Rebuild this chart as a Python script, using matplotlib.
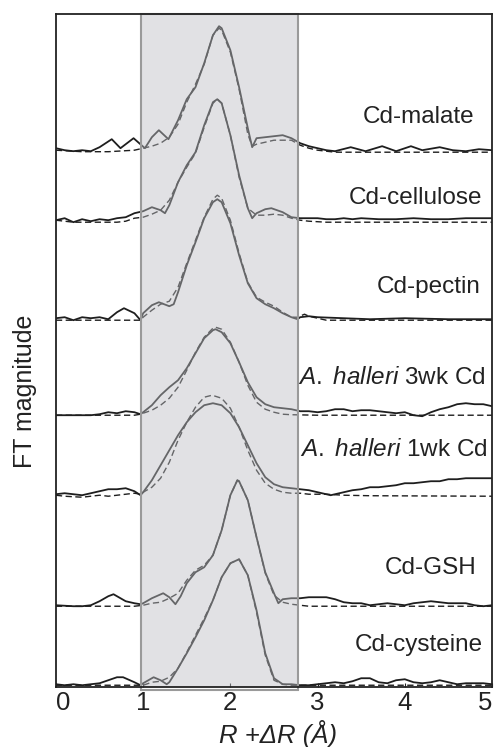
# EXAFS Fourier transforms: data (solid) vs fit (dashed), stacked
import matplotlib
matplotlib.use('Agg')
import matplotlib.pyplot as plt
from matplotlib.patches import Rectangle

plt.rcParams['font.family'] = ['Liberation Sans', 'DejaVu Sans']
plt.rcParams['mathtext.fontset'] = 'custom'
plt.rcParams['mathtext.it'] = 'Liberation Sans:italic'
plt.rcParams['mathtext.rm'] = 'Liberation Sans'

# (R + dR, FT magnitude), heights in arbitrary units
malate_data = [(0.0, 4), (0.1, 2), (0.2, 1), (0.3, 2), (0.4, 1), (0.5, 5), (0.64, 13), (0.74, 4),
               (0.89, 14), (1.02, 4), (1.1, 15), (1.18, 22), (1.29, 13), (1.4, 32), (1.5, 53),
               (1.6, 65), (1.7, 89), (1.8, 117), (1.87, 126), (1.9, 124), (2.0, 102), (2.1, 65),
               (2.2, 24), (2.25, 5), (2.3, 14), (2.4, 15), (2.5, 16), (2.6, 17), (2.7, 14),
               (2.8, 9), (2.9, 6), (3.0, 4), (3.1, 2), (3.2, 1), (3.38, 5), (3.55, 1), (3.74, 6),
               (3.9, 1), (4.07, 6), (4.2, 2), (4.4, 5), (4.55, 2), (4.7, 1), (4.85, 3), (5.0, 2)]
malate_fit = [(0.0, 2), (0.3, 0.5), (0.6, 0.5), (0.9, 2), (1.0, 4), (1.1, 6), (1.2, 9), (1.3, 15),
              (1.4, 28), (1.5, 50), (1.6, 68), (1.7, 88), (1.8, 117), (1.87, 124), (1.9, 122),
              (2.0, 100), (2.1, 63), (2.2, 18), (2.25, 6), (2.3, 8), (2.4, 10), (2.5, 12),
              (2.6, 12), (2.7, 12), (2.8, 7), (2.9, 4), (3.0, 2), (3.2, 0), (5.0, 0)]

cellulose_data = [(0.0, 2), (0.1, 4), (0.2, 0), (0.3, 3), (0.4, 1), (0.5, 3), (0.6, 2), (0.7, 4),
                  (0.8, 5), (0.9, 9), (1.0, 11), (1.1, 15), (1.2, 12), (1.25, 9), (1.3, 17),
                  (1.4, 40), (1.5, 57), (1.6, 70), (1.7, 97), (1.8, 120), (1.85, 123), (1.9, 119),
                  (2.0, 87), (2.1, 47), (2.2, 14), (2.25, 4), (2.3, 9), (2.4, 13), (2.47, 14),
                  (2.6, 10), (2.7, 5), (2.8, 4), (3.0, 4), (3.1, 3), (3.2, 3), (3.3, 4), (3.4, 3),
                  (3.5, 4), (3.7, 3), (3.9, 3), (4.1, 4), (4.3, 3), (4.5, 3), (4.7, 4), (5.0, 4)]
cellulose_fit = [(0.0, 2), (0.2, 0), (0.7, 0), (0.8, 1), (0.9, 4), (1.0, 5), (1.1, 8), (1.2, 12),
                 (1.3, 22), (1.4, 40), (1.5, 55), (1.6, 69), (1.7, 95), (1.8, 119), (1.85, 123),
                 (1.9, 119), (2.0, 87), (2.1, 45), (2.2, 14), (2.3, 7), (2.4, 7), (2.5, 8),
                 (2.6, 7), (2.7, 4), (2.8, 2), (2.9, 1), (3.1, 0), (5.0, 0)]

pectin_data = [(0.0, 2), (0.1, 3), (0.2, 0), (0.3, 3), (0.4, 2), (0.5, 3), (0.6, 1), (0.7, 8),
               (0.78, 12), (0.9, 7), (0.97, 0), (1.0, 7), (1.1, 15), (1.18, 18), (1.3, 14),
               (1.35, 16), (1.4, 28), (1.5, 55), (1.6, 78), (1.7, 102), (1.8, 118), (1.85, 121),
               (1.9, 118), (2.0, 97), (2.1, 65), (2.2, 37), (2.3, 22), (2.4, 16), (2.5, 12),
               (2.6, 7), (2.7, 3), (2.77, 1), (2.8, 3), (2.9, 4), (3.0, 3), (3.3, 2), (3.6, 1),
               (4.0, 2), (4.5, 1), (5.0, 1)]
pectin_fit = [(0.0, 0), (0.97, 0), (1.0, 3), (1.1, 10), (1.2, 16), (1.3, 19), (1.4, 33), (1.5, 57),
              (1.6, 80), (1.7, 103), (1.8, 121), (1.85, 125), (1.9, 122), (2.0, 100), (2.1, 67),
              (2.2, 38), (2.3, 23), (2.4, 18), (2.5, 14), (2.6, 8), (2.7, 3), (2.77, 3),
              (2.85, 6), (2.9, 4), (3.0, 2), (3.1, 0), (5.0, 0)]

halleri3_data = [(0.0, 0), (0.4, 0), (0.5, 1), (0.6, 3), (0.7, 2), (0.8, 4), (0.9, 3), (0.97, 1),
                 (1.0, 3), (1.1, 10), (1.2, 20), (1.3, 28), (1.4, 35), (1.5, 47), (1.6, 62),
                 (1.7, 77), (1.8, 85), (1.83, 86), (1.9, 83), (2.0, 72), (2.1, 53), (2.2, 33),
                 (2.3, 18), (2.4, 11), (2.5, 8), (2.6, 7), (2.7, 6), (2.8, 4), (2.9, 4), (3.0, 3),
                 (3.1, 4), (3.2, 6), (3.3, 6), (3.4, 4), (3.5, 5), (3.6, 5), (3.7, 4), (3.8, 3),
                 (3.9, 2), (4.0, 3), (4.1, 0), (4.2, -1), (4.3, 3), (4.4, 6), (4.5, 8), (4.6, 11),
                 (4.7, 12), (4.8, 11), (4.9, 11), (5.0, 9)]
halleri3_fit = [(0.0, 0), (0.9, 0), (0.97, 1), (1.0, 2), (1.1, 5), (1.2, 10), (1.3, 17), (1.4, 28),
                (1.5, 45), (1.6, 63), (1.7, 78), (1.8, 87), (1.83, 88), (1.9, 86), (2.0, 73),
                (2.1, 53), (2.2, 30), (2.3, 13), (2.4, 6), (2.5, 3), (2.6, 1), (2.7, 0.5),
                (3.0, 0), (5.0, 0)]

halleri1_data = [(0.0, 2), (0.1, 3), (0.2, 2), (0.3, 1), (0.4, 3), (0.5, 5), (0.6, 7), (0.7, 7),
                 (0.8, 8), (0.9, 5), (0.97, 1), (1.0, 4), (1.1, 16), (1.2, 31), (1.3, 46),
                 (1.4, 61), (1.5, 74), (1.6, 84), (1.7, 91), (1.8, 93), (1.9, 91), (2.0, 83),
                 (2.1, 69), (2.2, 51), (2.3, 33), (2.4, 19), (2.5, 12), (2.6, 9), (2.7, 8),
                 (2.8, 7), (2.9, 6), (3.0, 4), (3.1, 2), (3.15, 1), (3.2, 2), (3.3, 4), (3.4, 6),
                 (3.5, 7), (3.6, 9), (3.7, 9), (3.8, 10), (3.9, 11), (4.0, 13), (4.1, 13),
                 (4.2, 14), (4.3, 15), (4.4, 15), (4.5, 17), (4.6, 17), (4.7, 18), (5.0, 18)]
halleri1_fit = [(0.0, 1), (0.1, 0), (0.3, -1), (0.4, 0), (0.5, 1), (0.6, 0), (0.7, 1), (0.8, 2),
                (0.9, 3), (0.97, 2), (1.0, 4), (1.1, 9), (1.2, 18), (1.3, 34), (1.4, 56),
                (1.5, 74), (1.6, 89), (1.7, 99), (1.79, 101), (1.9, 98), (2.0, 88), (2.1, 69),
                (2.2, 46), (2.3, 26), (2.4, 13), (2.5, 7), (2.6, 4), (2.7, 3), (2.8, 3),
                (2.9, 2), (3.1, 2), (3.3, 1), (3.6, 0.5), (5.0, 0)]

gsh_data = [(0.0, 1), (0.2, 0), (0.3, 0), (0.4, 1), (0.5, 5), (0.6, 10), (0.66, 12), (0.7, 10),
            (0.8, 5), (0.9, 3), (0.97, 2), (1.0, 3), (1.1, 8), (1.23, 13), (1.3, 9), (1.37, 2),
            (1.43, 10), (1.5, 23), (1.6, 34), (1.7, 39), (1.8, 51), (1.9, 76), (2.0, 111),
            (2.08, 126), (2.1, 125), (2.2, 106), (2.3, 69), (2.4, 34), (2.5, 13), (2.55, 3),
            (2.6, 7), (2.7, 8), (2.8, 8), (2.9, 9), (3.0, 9), (3.1, 9), (3.2, 7), (3.3, 4),
            (3.4, 3), (3.5, 3), (3.6, 1), (3.7, 2), (3.8, 3), (3.9, 2), (4.0, 1), (4.1, 3),
            (4.2, 4), (4.3, 5), (4.4, 4), (4.5, 3), (4.7, 3), (4.8, 1), (4.9, 0), (5.0, 1)]
gsh_fit = [(0.0, 0), (0.9, 0), (1.0, 1), (1.1, 3), (1.2, 4), (1.3, 8), (1.4, 13), (1.5, 26),
           (1.6, 36), (1.7, 41), (1.8, 51), (1.9, 76), (2.0, 111), (2.08, 126), (2.1, 125),
           (2.2, 106), (2.3, 69), (2.4, 33), (2.5, 11), (2.6, 4), (2.7, 2), (2.8, 1), (2.9, 0),
           (5.0, 0)]

cysteine_data = [(0.0, 1), (0.1, 0), (0.2, 1), (0.3, 0), (0.4, 1), (0.5, 2), (0.6, 5), (0.7, 8),
                 (0.77, 8), (0.9, 3), (0.97, 0), (1.0, 2), (1.12, 8), (1.2, 5), (1.27, 1),
                 (1.3, 3), (1.4, 17), (1.5, 32), (1.6, 48), (1.7, 65), (1.8, 85), (1.9, 108),
                 (2.0, 122), (2.1, 126), (2.2, 110), (2.3, 75), (2.4, 32), (2.5, 7), (2.6, 1),
                 (2.7, 1), (2.8, 0), (2.9, 0), (3.0, 1), (3.1, 2), (3.2, 3), (3.3, 2), (3.4, 4),
                 (3.5, 7), (3.6, 7), (3.7, 3), (3.8, 2), (3.9, 5), (4.0, 6), (4.1, 3), (4.2, 2),
                 (4.3, 3), (4.4, 5), (4.5, 3), (4.6, 1), (4.7, 2), (4.9, 2), (5.0, 1)]
cysteine_fit = [(0.0, 0), (1.0, 0), (1.1, 3), (1.2, 4), (1.3, 8), (1.4, 17), (1.5, 33), (1.6, 50),
                (1.7, 67), (1.8, 85), (1.9, 108), (2.0, 122), (2.1, 126), (2.2, 110), (2.3, 73),
                (2.4, 30), (2.5, 5), (2.6, 1), (2.7, 0), (5.0, 0)]

labels = ['Cd-malate', 'Cd-cellulose', 'Cd-pectin', r'$\mathit{A.\ halleri}$ 3wk Cd',
          r'$\mathit{A.\ halleri}$ 1wk Cd', 'Cd-GSH', 'Cd-cysteine']
series = [(malate_data, malate_fit), (cellulose_data, cellulose_fit), (pectin_data, pectin_fit),
          (halleri3_data, halleri3_fit), (halleri1_data, halleri1_fit), (gsh_data, gsh_fit),
          (cysteine_data, cysteine_fit)]
tick_labels = ['0', '1', '2', '3', '4', '5']

# vertical stacking offsets and label placement
offsets = [535, 465, 367, 272, 191, 81, 2]
label_x = [4.80, 4.89, 4.87, 4.93, 4.95, 4.82, 4.89]
label_y = [570, 489, 400, 309, 237, 119, 42]
fit_window = (0.97, 2.77)

fig = plt.figure(figsize=(4.95, 7.47), dpi=100)
ax = fig.add_axes([0.113, 0.080, 0.881, 0.901])

for (data, fit), off in zip(series, offsets):
    r, m = zip(*data)
    ax.plot(r, [v + off for v in m], color='#1e1e1e', lw=1.3, solid_joinstyle='round', zorder=3)
    r, m = zip(*fit)
    ax.plot(r, [v + off for v in m], color='#1e1e1e', lw=1.0, dashes=(4.5, 2.5), zorder=3)

# fitting window, semi-transparent so the lines inside look grey
ax.axvspan(*fit_window, facecolor=(0.74, 0.745, 0.77, 0.45), edgecolor='none', zorder=4)
ax.add_patch(Rectangle((fit_window[0], -3), fit_window[1] - fit_window[0], 676,
                       facecolor='none', edgecolor='#9a9a9a', lw=1.5, clip_on=False, zorder=5))

for txt, lx, ly in zip(labels, label_x, label_y):
    ax.text(lx, ly, txt, ha='right', va='center', fontsize=17.5, color='#222222', zorder=6)

ax.set_xlim(0, 5)
ax.set_ylim(0, 673)
ax.set_yticks([])
ax.set_xticks(range(6))
ax.set_xticklabels(tick_labels)
ax.tick_params(axis='x', direction='in', length=3, labelsize=18.5, pad=3, colors='#222222')
xt = ax.get_xticklabels()
xt[0].set_ha('left')
xt[-1].set_ha('right')
for sp in ax.spines.values():
    sp.set_linewidth(1.3)
    sp.set_color('#222222')
    sp.set_zorder(6)

fig.text(278 / 495, 1 - 734 / 747, 'R +ΔR (Å)', style='italic', fontsize=18.5,
         color='#222222', ha='center', va='center')
fig.text(25 / 495, 1 - 391 / 747, 'FT magnitude', rotation=90, fontsize=18,
         color='#222222', ha='center', va='center')

fig.savefig('out.png', dpi=100)
